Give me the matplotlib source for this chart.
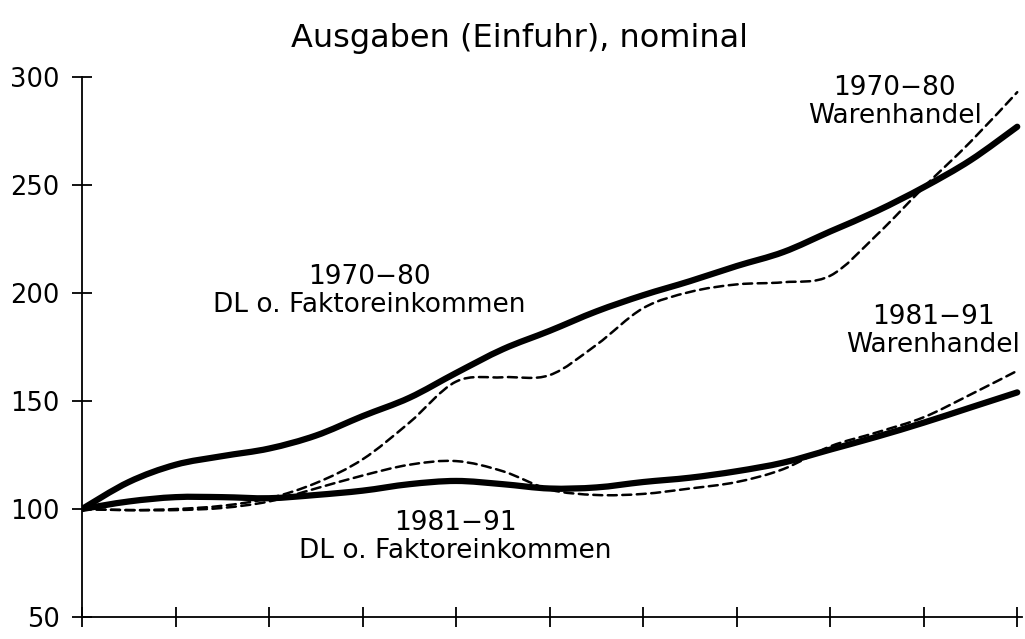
import matplotlib
matplotlib.use("Agg")
from matplotlib import pyplot as plt
from matplotlib.path import Path
from matplotlib.patches import PathPatch

# half-year steps, 0 = first year of the period
years = [0, 0.5, 1, 1.5, 2, 2.5, 3, 3.5, 4, 4.5, 5,
         5.5, 6, 6.5, 7, 7.5, 8, 8.5, 9, 9.5, 10]

dl_7080 = [100, 112.5, 120.5, 124.5, 128, 134, 143, 151.5, 163, 174, 182.5,
           191.5, 199, 205.5, 212.5, 219, 228.5, 238, 249, 261.5, 277]
ware_7080 = [100, 99.5, 100, 101.5, 105, 112, 123, 140, 159, 161, 162,
             176, 193, 200.5, 204, 205, 208, 227, 249, 270, 293]
dl_8191 = [100, 103.5, 105.5, 105.5, 105, 106.5, 108.5, 111.5, 113, 111.5, 109.5,
           110, 112.5, 114.5, 117.5, 121.5, 127.5, 133.5, 140, 147, 154]
ware_8191 = [100, 99.5, 99.5, 100.5, 103.5, 109.5, 115.5, 120.5, 122.2, 117.5, 109,
             106.5, 107, 109.5, 112.5, 118.5, 129, 135.5, 142.5, 153, 164]

y_ticks = [50, 100, 150, 200, 250, 300]
x_ticks = list(range(0, 11))

labels = [
    ("1970\u221280\nDL o. Faktoreinkommen", 3.07, 201),
    ("1970\u221280\nWarenhandel", 8.69, 288.5),
    ("1981\u221291\nWarenhandel", 9.10, 182.5),
    ("1981\u221291\nDL o. Faktoreinkommen", 3.99, 87),
]


def smooth_path(xs, ys):
    # bezier segments through every point (catmull-rom style)
    verts = [(xs[0], ys[0])]
    codes = [Path.MOVETO]
    n = len(xs)
    for i in range(n - 1):
        x0, y0 = xs[max(i - 1, 0)], ys[max(i - 1, 0)]
        x1, y1 = xs[i], ys[i]
        x2, y2 = xs[i + 1], ys[i + 1]
        x3, y3 = xs[min(i + 2, n - 1)], ys[min(i + 2, n - 1)]
        c1 = (x1 + (x2 - x0) / 6, y1 + (y2 - y0) / 6)
        c2 = (x2 - (x3 - x1) / 6, y2 - (y3 - y1) / 6)
        verts += [c1, c2, (x2, y2)]
        codes += [Path.CURVE4] * 3
    return Path(verts, codes)


def draw_line(ax, ys, **style):
    patch = PathPatch(smooth_path(years, ys), facecolor='none',
                      edgecolor='black', capstyle='round', **style)
    ax.add_patch(patch)


def main():
    plt.rcParams['font.family'] = ['DejaVu Sans']
    fig = plt.figure(figsize=(10.25, 6.39), dpi=100)
    ax = fig.add_axes([0.080, 0.0344, 0.917, 0.845])

    draw_line(ax, dl_7080, lw=4.5)
    draw_line(ax, dl_8191, lw=4.5)
    draw_line(ax, ware_7080, lw=1.8, linestyle=(0, (3.6, 2.2)))
    draw_line(ax, ware_8191, lw=1.8, linestyle=(0, (3.6, 2.2)))

    for text, x, y in labels:
        ax.text(x, y, text, ha='center', va='center', fontsize=19,
                linespacing=1.1)

    ax.set_xlim(0, 10.05)
    ax.set_ylim(50, 300)
    ax.set_xticks(x_ticks)
    ax.set_xticklabels([])
    ax.set_yticks(y_ticks)
    ax.tick_params(axis='both', direction='inout', length=14, width=1.3,
                   labelsize=18.5, pad=9)
    for side in ('top', 'right'):
        ax.spines[side].set_visible(False)
    for side in ('left', 'bottom'):
        ax.spines[side].set_linewidth(1.3)

    fig.text(0.507, 0.94, "Ausgaben (Einfuhr), nominal", ha='center',
             va='center', fontsize=23)

    fig.savefig("out.png", dpi=100)


if __name__ == "__main__":
    main()
